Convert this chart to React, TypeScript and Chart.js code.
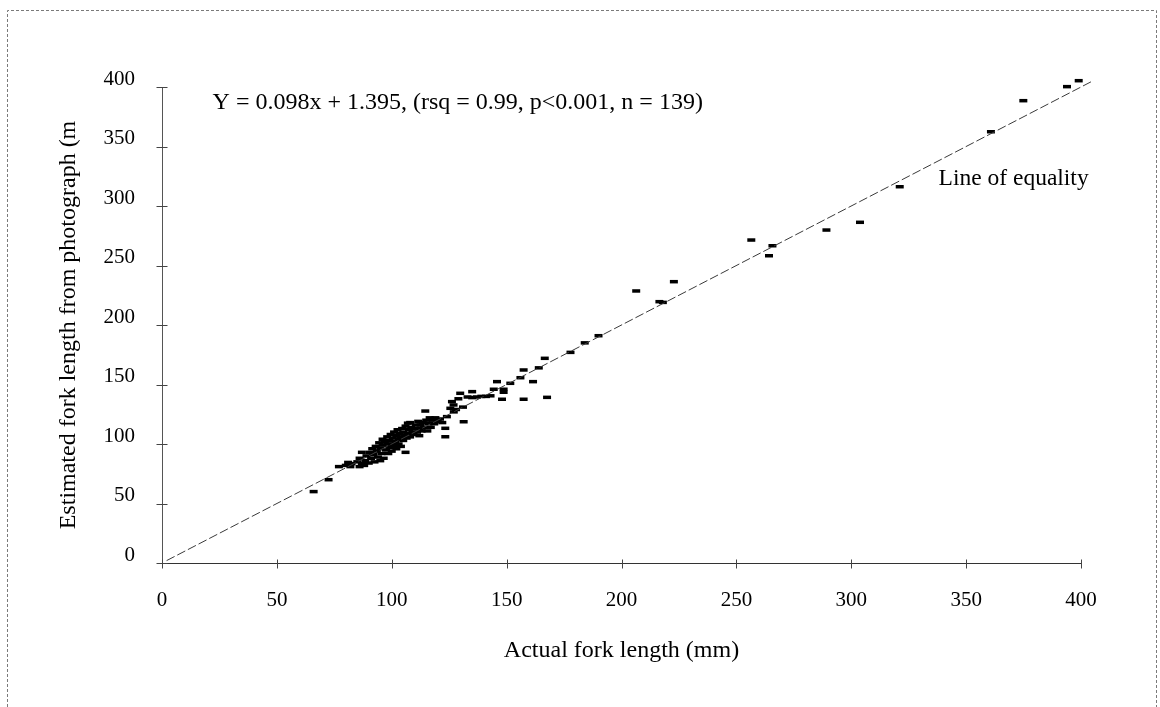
import React, { useEffect, useRef } from "react";
import { Chart, registerables } from "chart.js";

Chart.register(...registerables);

// Actual fork length (mm) and estimated fork length from photograph
const actualLength: number[] = [
  66, 72.5, 77, 80, 81, 82, 82.5, 85, 86, 87, 87, 88, 88.5, 89, 90, 90.5, 91, 91.5, 92, 92.5,
  93, 93.5, 94, 94.5, 95, 95.5, 96, 96, 96.5, 97, 97.5, 98, 98, 98.5, 99, 99, 99.5, 100, 100, 100.5,
  101, 101, 101.5, 102, 102, 102.5, 103, 103, 103.5, 104, 104, 104.5, 105, 105, 105.5, 106, 106, 106.5, 107, 107,
  107.5, 108, 108, 108.5, 109, 109.5, 110, 110.5, 111, 111.5, 112, 112.5, 113, 113.5, 114, 114.6, 115, 115.5, 116, 116.5,
  117, 118, 118.5, 119, 120, 121, 122, 123.3, 123.3, 124, 125.5, 126.2, 126.9, 127, 128, 129, 129.8, 131.3, 131, 133,
  135, 135, 137, 139, 141, 143, 144.4, 145.8, 148.7, 148.7, 148, 151.6, 156, 157.4, 157.4, 161.5, 164, 166.6, 167.6, 177.8,
  184, 190, 206.4, 216.5, 218, 222.8, 256.5, 264.2, 265.7, 289.2, 303.8, 321.1, 360.8, 374.9, 393.9, 399, 86, 95, 112,
];
const estimatedLength: number[] = [
  60, 70, 81, 82, 84.5, 81, 83.5, 85, 88, 93, 83.5, 82, 86, 90, 84, 93, 88, 96, 91, 85,
  98, 94, 89, 101, 96, 92, 99, 104, 88, 102, 95, 100, 106, 92, 97, 103, 108, 100, 94, 105,
  110, 98, 102, 107, 96, 112, 104, 100, 109, 106, 98, 113, 103, 110, 107, 93, 115, 105, 117.5, 109,
  112, 106, 118, 114, 110, 108, 113, 116, 110, 119, 113, 116, 111, 118, 114, 127.7, 120, 111, 117, 122,
  114, 120, 117, 122, 119, 121, 118, 113.2, 106.1, 123, 130, 135.6, 132.8, 127, 129, 138, 142.6, 118.7, 131, 139.5,
  144, 139, 139.5, 140, 140, 140.5, 146, 152.4, 146, 143.5, 137.6, 151, 155.7, 162.2, 137.6, 152.4, 164, 172, 139.2, 177,
  185, 191, 228.6, 219.6, 219, 236.4, 271.4, 258.2, 266.6, 279.8, 286.3, 316.2, 362.4, 388.5, 400.3, 405.3, 81, 86, 107,
];

// Line of equality end points
const equalityX: number[] = [2, 405];
const equalityY: number[] = [2, 405];

const axisTicks: number[] = [0, 50, 100, 150, 200, 250, 300, 350, 400];

const equationText = "Y = 0.098x + 1.395, (rsq = 0.99, p<0.001, n = 139)";
const equalityText = "Line of equality";
const xTitle = "Actual fork length (mm)";
const yTitle = "Estimated fork length from photograph (m";

const SERIF = "'Liberation Serif', 'Times New Roman', serif";

export default function App() {
  const canvasRef = useRef<HTMLCanvasElement | null>(null);

  useEffect(() => {
    const canvas = canvasRef.current;
    if (!canvas) return;

    const points = actualLength.map((x, i) => ({ x, y: estimatedLength[i] }));
    const eqLine = equalityX.map((x, i) => ({ x, y: equalityY[i] }));

    const framePlugin = {
      id: "frameAndNotes",
      beforeDraw(chart: any) {
        const ctx = chart.ctx;
        ctx.save();
        ctx.strokeStyle = "#7a7a7a";
        ctx.lineWidth = 1;
        ctx.setLineDash([3, 2]);
        ctx.beginPath();
        ctx.moveTo(7.5, 707);
        ctx.lineTo(7.5, 10.5);
        ctx.lineTo(1156.5, 10.5);
        ctx.lineTo(1156.5, 707);
        ctx.stroke();
        ctx.restore();
      },
      afterDraw(chart: any) {
        const ctx = chart.ctx;
        const xs = chart.scales.x;
        const ys = chart.scales.y;
        ctx.save();
        // tick marks crossing the axes
        ctx.strokeStyle = "#444";
        ctx.lineWidth = 1;
        const x0 = Math.round(xs.getPixelForValue(0)) + 0.5;
        const y0 = Math.round(ys.getPixelForValue(0)) + 0.5;
        ctx.beginPath();
        axisTicks.forEach((v) => {
          const py = Math.round(ys.getPixelForValue(v)) + 0.5;
          ctx.moveTo(x0 - 6, py);
          ctx.lineTo(x0 + 5, py);
          const px = Math.round(xs.getPixelForValue(v)) + 0.5;
          ctx.moveTo(px, y0 - 4);
          ctx.lineTo(px, y0 + 5);
        });
        ctx.stroke();

        ctx.fillStyle = "#000";
        ctx.textBaseline = "middle";
        ctx.textAlign = "left";
        ctx.font = `24px ${SERIF}`;
        ctx.fillText(equationText, xs.getPixelForValue(22), ys.getPixelForValue(387));
        ctx.font = `23.5px ${SERIF}`;
        ctx.fillText(equalityText, xs.getPixelForValue(338), ys.getPixelForValue(323));
        ctx.restore();
      },
    };

    const chart = new Chart(canvas, {
      type: "scatter",
      data: {
        datasets: [
          {
            type: "line",
            label: "Line of equality",
            data: eqLine,
            borderColor: "#3a3a3a",
            borderWidth: 1,
            borderDash: [9, 3],
            pointRadius: 0,
            fill: false,
            clip: false as any,
          } as any,
          {
            label: "Fish",
            data: points,
            pointStyle: "line",
            pointRadius: 4,
            pointBorderWidth: 3.5,
            borderColor: "#000",
            backgroundColor: "#000",
            clip: false as any,
          } as any,
        ],
      },
      options: {
        animation: false,
        responsive: false,
        events: [],
        layout: { padding: { left: 0, top: 87, right: 79, bottom: 0 } },
        plugins: {
          legend: { display: false },
          tooltip: { enabled: false },
        },
        scales: {
          x: {
            type: "linear",
            min: 0,
            max: 400,
            afterFit: (scale: any) => {
              scale.height = 144;
            },
            afterBuildTicks: (scale: any) => {
              scale.ticks = axisTicks.map((v) => ({ value: v }));
            },
            grid: {
              drawOnChartArea: false,
              drawTicks: false,
            },
            border: { display: true, color: "#333", width: 1 },
            ticks: {
              color: "#000",
              font: { family: SERIF, size: 21 },
              padding: 25,
              maxRotation: 0,
            },
            title: {
              display: true,
              text: xTitle,
              color: "#000",
              font: { family: SERIF, size: 24 },
              padding: { top: 0, bottom: 42 },
            },
          },
          y: {
            type: "linear",
            min: 0,
            max: 400,
            afterFit: (scale: any) => {
              scale.width = 162;
            },
            afterBuildTicks: (scale: any) => {
              scale.ticks = axisTicks.map((v) => ({ value: v }));
            },
            grid: {
              drawOnChartArea: false,
              drawTicks: false,
            },
            border: { display: true, color: "#555", width: 1, dash: [5, 2] },
            ticks: {
              color: "#000",
              font: { family: SERIF, size: 21 },
              padding: 27,
              labelOffset: -8,
            },
            title: {
              display: true,
              text: yTitle,
              color: "#000",
              font: { family: SERIF, size: 24 },
              padding: { top: 54, bottom: 0 },
            },
          },
        },
      },
      plugins: [framePlugin],
    });

    return () => {
      chart.destroy();
    };
  }, []);

  return (
    <div style={{ position: "absolute", left: 0, top: 0, width: 1160, height: 707, background: "#fff" }}>
      <canvas ref={canvasRef} width={1160} height={707} style={{ display: "block" }} />
    </div>
  );
}
